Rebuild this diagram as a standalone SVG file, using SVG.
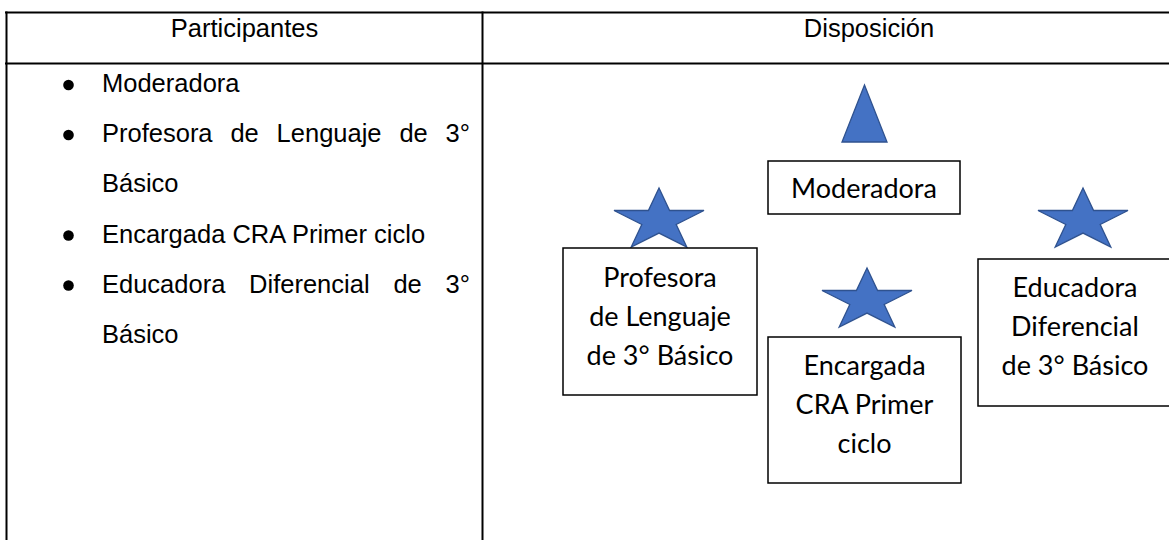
<svg xmlns="http://www.w3.org/2000/svg" width="1169" height="540" viewBox="0 0 1169 540">
<style>
.grid{stroke:#000;stroke-width:2;fill:none}
.hdr{font-family:"Liberation Sans",Arial,sans-serif;font-size:25.5px;fill:#000;text-anchor:middle}
.li{font-family:"Liberation Sans",Arial,sans-serif;font-size:25.5px;fill:#000}
.bul{fill:#000}
.box{fill:#fff;stroke:#000;stroke-width:1.5}
.lbl{font-family:Lato,Carlito,sans-serif;font-size:27px;fill:#000;text-anchor:middle}
.shape{fill:#4472C4;stroke:#2F528F;stroke-width:1.3;stroke-linejoin:miter}
</style>
<defs>
<path id="star" d="M0,-32.6 L10.6,-10.1 L45,-10.1 L17.2,3.9 L27.8,26.4 L0,12.5 L-27.8,26.4 L-17.2,3.9 L-45,-10.1 L-10.6,-10.1 Z"/>
</defs>
<rect width="1169" height="540" fill="#fff"/>
<g id="table">
<line class="grid" x1="5" y1="12.5" x2="1169" y2="12.5"/>
<line class="grid" x1="5" y1="63.5" x2="1169" y2="63.5"/>
<line class="grid" x1="6.5" y1="11.5" x2="6.5" y2="540"/>
<line class="grid" x1="482.5" y1="11.5" x2="482.5" y2="540"/>
<text class="hdr" x="244.5" y="37">Participantes</text>
<text class="hdr" x="869" y="37">Disposición</text>
</g>
<g id="participant-list">
<circle class="bul" cx="68.5" cy="85" r="5.3"/>
<circle class="bul" cx="68.5" cy="135" r="5.3"/>
<circle class="bul" cx="68.5" cy="235.5" r="5.3"/>
<circle class="bul" cx="68.5" cy="285.5" r="5.3"/>
<text class="li" x="102" y="92">Moderadora</text>
<text class="li" y="142"><tspan x="102">Profesora</tspan><tspan x="230.4">de</tspan><tspan x="276.6">Lenguaje</tspan><tspan x="399.4">de</tspan><tspan x="445.6">3°</tspan></text>
<text class="li" x="102" y="192">Básico</text>
<text class="li" x="102" y="242.5">Encargada CRA Primer ciclo</text>
<text class="li" y="292.5"><tspan x="102">Educadora</tspan><tspan x="249.1">Diferencial</tspan><tspan x="393.4">de</tspan><tspan x="445.6">3°</tspan></text>
<text class="li" x="102" y="342.5">Básico</text>
</g>
<g id="moderadora">
<polygon class="shape" points="864.5,85 842,142 887,142"/>
<rect class="box" x="768" y="161" width="192" height="53"/>
<text class="lbl" x="864" y="198">Moderadora</text>
</g>
<g id="profesora">
<use href="#star" class="shape" x="659" y="220.6"/>
<rect class="box" x="563" y="248" width="194" height="147"/>
<text class="lbl" x="660" y="287">Profesora</text>
<text class="lbl" x="660" y="326">de Lenguaje</text>
<text class="lbl" x="660" y="365">de 3° Básico</text>
</g>
<g id="encargada">
<use href="#star" class="shape" x="867" y="300.6"/>
<rect class="box" x="768" y="337" width="193" height="146"/>
<text class="lbl" x="864.5" y="375">Encargada</text>
<text class="lbl" x="864.5" y="414">CRA Primer</text>
<text class="lbl" x="864.5" y="453">ciclo</text>
</g>
<g id="educadora">
<use href="#star" class="shape" x="1083" y="220.6"/>
<rect class="box" x="978" y="259" width="194" height="147"/>
<text class="lbl" x="1075" y="297">Educadora</text>
<text class="lbl" x="1075" y="336">Diferencial</text>
<text class="lbl" x="1075" y="375">de 3° Básico</text>
</g>
<g id="connectors"/>
</svg>
